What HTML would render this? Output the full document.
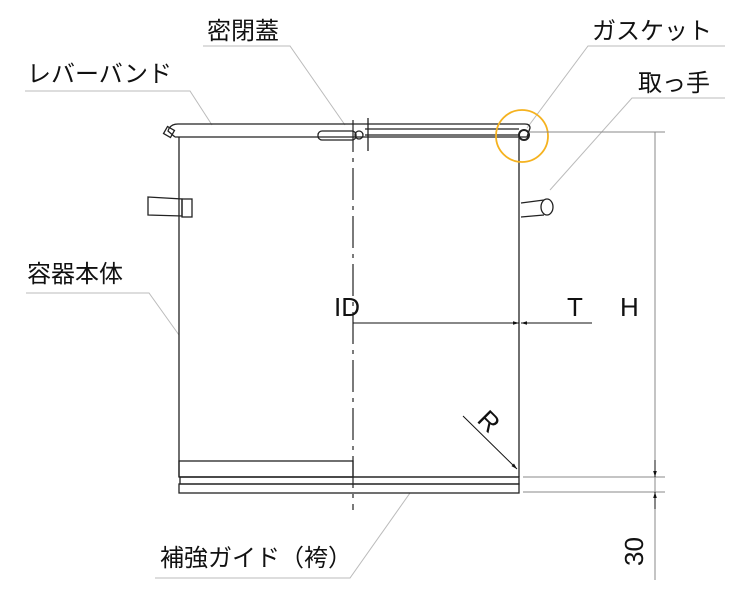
<!DOCTYPE html>
<html><head><meta charset="utf-8"><style>
html,body{margin:0;padding:0;background:#fff}
svg text{font-family:"Liberation Sans","Noto Sans CJK JP",sans-serif;fill:#111}
</style></head><body>
<svg width="750" height="600" viewBox="0 0 750 600" xmlns="http://www.w3.org/2000/svg">
<defs>
<marker id="a" viewBox="0 0 10 10" refX="10" refY="5" markerWidth="8" markerHeight="6" orient="auto-start-reverse"><path d="M0,2 L10,5 L0,8z" fill="#111"/></marker>
</defs>
<g stroke="#bbb" stroke-width="1" fill="none">
<polyline points="203,46 290,46 345,125"/>
<polyline points="25,91 190,91 212,125"/>
<polyline points="725,46 588,46 527,128"/>
<polyline points="725,98 632,98 550,190"/>
<polyline points="26,293 149,293 179,335"/>
<polyline points="155,578 350,578 410,493"/>
</g>
<g stroke="#222" stroke-width="1.3" fill="none">
<line x1="179" y1="137" x2="179" y2="477"/>
<line x1="519" y1="137" x2="519" y2="477"/>
<path d="M175,137 L519,137 L527,137 L530,128 Q530,124 525,124 L178,124 Q170,124 168,131 L175,137"/>
<rect x="165" y="128" width="8" height="8" transform="rotate(30 169 132)"/>
<line x1="365" y1="129" x2="519" y2="129"/>
<line x1="365" y1="135" x2="519" y2="135"/>
<rect x="318" y="131" width="38" height="9" rx="4"/>
<circle cx="359" cy="135" r="4"/>
<circle cx="524" cy="135" r="5" stroke-width="2"/>
<line x1="368" y1="118" x2="368" y2="151"/>
<rect x="179" y="461" width="174" height="16"/>
<line x1="179" y1="477" x2="519" y2="477"/>
<rect x="180" y="477" width="339" height="7"/>
<rect x="179" y="484" width="340" height="9"/>
<path d="M148,197 L182,199 L182,216 L148,215 Z"/>
<rect x="182" y="199" width="10" height="18"/>
<path d="M521,203 L544,200 M521,217 L544,215"/>
<ellipse cx="547" cy="207" rx="6" ry="8"/>
</g>
<line x1="353" y1="120" x2="353" y2="510" stroke="#222" stroke-width="1.2" stroke-dasharray="32,6,4,6"/>
<circle cx="522" cy="136" r="26" stroke="#f5b21f" stroke-width="1.8" fill="none"/>
<g stroke="#888" stroke-width="1" fill="none">
<line x1="530" y1="132" x2="665" y2="132"/>
<line x1="523" y1="477" x2="665" y2="477"/>
<line x1="523" y1="492" x2="665" y2="492"/>
<line x1="655" y1="132" x2="655" y2="580"/>
</g>
<g stroke="#111" stroke-width="1" fill="none">
<line x1="655" y1="460" x2="655" y2="477" marker-end="url(#a)"/>
<line x1="655" y1="509" x2="655" y2="492" marker-end="url(#a)"/>
<line x1="353" y1="323" x2="519" y2="323" marker-end="url(#a)"/>
<line x1="592" y1="323" x2="521" y2="323" marker-end="url(#a)"/>
<line x1="463" y1="416" x2="517" y2="469" marker-end="url(#a)"/>
</g>
<g font-size="24">
<text x="207" y="39">密閉蓋</text>
<text x="27" y="82">レバーバンド</text>
<text x="592" y="39">ガスケット</text>
<text x="638" y="91">取っ手</text>
<text x="27" y="282">容器本体</text>
<text x="160" y="566">補強ガイド（袴）</text>
</g>
<g font-size="26">
<text x="334" y="316">ID</text>
<text x="567" y="316">T</text>
<text x="620" y="316">H</text>
<text transform="translate(476,421) rotate(45)">R</text>
<text transform="translate(643,566) rotate(-90)">30</text>
</g>
</svg>
</body></html>
